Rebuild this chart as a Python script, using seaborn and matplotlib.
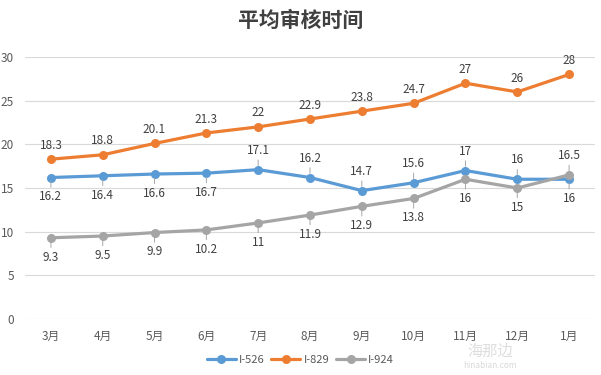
import matplotlib
matplotlib.use("Agg")
import matplotlib.pyplot as plt
import pandas as pd
import seaborn as sns

# data
months = ["3月", "4月", "5月", "6月", "7月", "8月", "9月", "10月", "11月", "12月", "1月"]
i526 = [16.2, 16.4, 16.6, 16.7, 17.1, 16.2, 14.7, 15.6, 17, 16, 16]
i829 = [18.3, 18.8, 20.1, 21.3, 22, 22.9, 23.8, 24.7, 27, 26, 28]
i924 = [9.3, 9.5, 9.9, 10.2, 11, 11.9, 12.9, 13.8, 16, 15, 16.5]
series = ["I-526", "I-829", "I-924"]
colors = ["#5B9BD5", "#ED7D31", "#A5A5A5"]

# label side: +1 above, -1 below
side526 = [-1, -1, -1, -1, 1, 1, 1, 1, 1, 1, -1]
side829 = [1] * 11
side924 = [-1, -1, -1, -1, -1, -1, -1, -1, -1, -1, 1]

df = pd.DataFrame({
    "month": months * 3,
    "value": i526 + i829 + i924,
    "series": [s for s in series for _ in months],
})

sns.set_theme(style="white")
plt.rcParams["font.family"] = ["Noto Sans CJK SC", "DejaVu Sans"]

fig = plt.figure(figsize=(6.01, 3.75), dpi=100)
ax = fig.add_axes([25 / 601, 56 / 375, 570 / 601, 262 / 375])

sns.lineplot(data=df, x="month", y="value", hue="series", palette=colors,
             marker="o", markersize=6.5, markeredgewidth=0, linewidth=2.3,
             sort=False, ax=ax, legend=True)

ax.set_xlim(-0.5, len(months) - 0.5)
ax.set_ylim(0, 30)
ax.set_yticks(range(0, 31, 5))
ax.yaxis.grid(True, color="#D9D9D9", linewidth=0.8)
ax.set_axisbelow(True)
for sp in ax.spines.values():
    sp.set_visible(False)
ax.set_xlabel("")
ax.set_ylabel("")
ax.tick_params(axis="both", length=0, labelsize=8.5, labelcolor="#595959")
ax.tick_params(axis="y", pad=8)
ax.tick_params(axis="x", pad=8)

for vals, sides, leader in [(i526, side526, True), (i829, side829, False), (i924, side924, True)]:
    for i, (v, s) in enumerate(zip(vals, sides)):
        off = 10 if not leader else 14
        dy = off if s > 0 else -off
        kw = {}
        if leader:
            kw["arrowprops"] = dict(arrowstyle="-", color="#A6A6A6", lw=0.7,
                                    shrinkA=0, shrinkB=3)
        ax.annotate(f"{v:g}", xy=(i, v), xytext=(0, dy), textcoords="offset points",
                    ha="center", va="center", fontsize=8.5, color="#404040", **kw)

leg = ax.legend(loc="center", bbox_to_anchor=(0.5, 15 / 375), bbox_transform=fig.transFigure,
                ncol=3, frameon=False, fontsize=8, handlelength=2.6, columnspacing=0.6,
                handletextpad=0.3)
for t in leg.get_texts():
    t.set_color("#595959")

fig.text(0.5, 1 - 20 / 375, "平均审核时间", ha="center", va="center",
         fontsize=15, fontweight="bold", color="#404040")

# faint watermark, kept clear of the tick labels
fig.text(490 / 601, 1 - 351 / 375, "海那边", ha="center", va="center",
         fontsize=11, color="#C8C8C8", alpha=0.6)
fig.text(490 / 601, 1 - 366 / 375, "hinabian.com", ha="center", va="center",
         fontsize=6, color="#C8C8C8", alpha=0.7)

fig.savefig("out.png", dpi=100)
